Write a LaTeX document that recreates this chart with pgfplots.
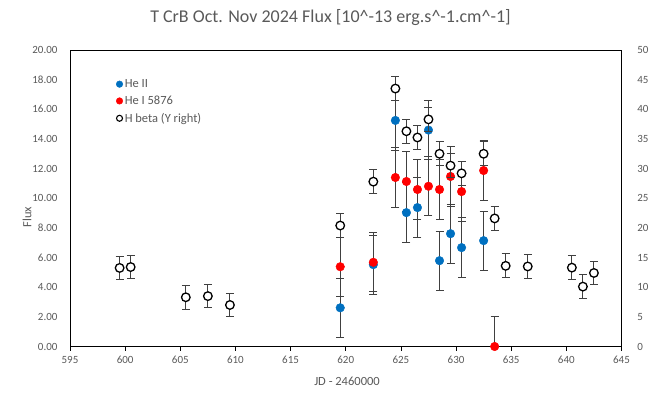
\documentclass[border=0pt]{standalone}
\usepackage{pgfplots}
\pgfplotsset{compat=1.18}
\usepackage{fontspec}
\setmainfont{Carlito}
\definecolor{tickgray}{HTML}{595959}
\definecolor{heii}{HTML}{0070C0}
\definecolor{hei}{HTML}{FF0000}
\definecolor{errgray}{HTML}{404040}

\pgfplotstableread{
x y ep em
619.5 2.61 2 2
622.5 5.52 2 2
624.5 15.25 2 2
625.5 9.03 2 2
626.5 9.37 2 2
627.5 14.6 2 2
628.5 5.79 2 2
629.5 7.61 2 2
630.5 6.67 2 2
632.5 7.14 2 2
}\heii

\pgfplotstableread{
x y ep em
619.5 5.38 2 2
622.5 5.68 2 2
624.5 11.4 2 2
625.5 11.13 2 2
626.5 10.59 2 2
627.5 10.81 2 2
628.5 10.59 2 2
629.5 11.47 2 2
630.5 10.45 2 2
632.5 11.87 2 2
633.5 0 2 0
}\hei

\pgfplotstableread{
x y ep em
599.5 13.25 2 2
600.5 13.4 2 2
605.5 8.3 2 2
607.5 8.5 2 2
609.5 7.0 2 2
619.5 20.4 2 2
622.5 27.8 2 2
624.5 43.5 2 2
625.5 36.3 2 2
626.5 35.25 2 2
627.5 38.3 2 2
628.5 32.5 2 2
629.5 30.5 2 2
630.5 29.2 2 2
632.5 32.5 2 2
633.5 21.6 2 2
634.5 13.6 2 2
636.5 13.5 2 2
640.5 13.3 2 2
641.5 10.1 2 2
642.5 12.4 2 2
}\hbeta

\pgfplotsset{
  errstyle/.style={
    error bars/.cd, y dir=both, y explicit,
    error bar style={color=errgray, line width=1pt},
    error mark options={rotate=90, mark size=4pt, color=errgray, line width=1pt}
  }
}

\begin{document}
\begin{tikzpicture}
\path[use as bounding box] (0pt,0pt) rectangle (661pt,397pt);
\begin{axis}[
  at={(70pt,50.5pt)}, anchor=south west,
  width=551.5pt, height=296.5pt, scale only axis,
  xmin=595, xmax=645, ymin=0, ymax=20,
  xtick distance=5, ytick distance=2,
  xtick pos=lower, ytick pos=left, tick align=outside,
  major tick length=4pt,
  ytick style={draw=none},
  axis line style={black, line width=0.9pt},
  xtick style={black, line width=0.8pt},
  ticklabel style={font=\fontsize{11}{13}\selectfont, text=tickgray},
  /pgf/number format/assume math mode=true,
  yticklabel style={/pgf/number format/fixed, /pgf/number format/fixed zerofill, /pgf/number format/precision=2, xshift=-5pt},
  xticklabel style={/pgf/number format/fixed, /pgf/number format/1000 sep={}, yshift=-2pt},
]
\addplot[only marks, mark=*, mark size=4.3pt, color=heii, mark options={draw=heii, fill=heii}, errstyle]
  table[x=x, y=y, y error plus=ep, y error minus=em] {\heii};
\addplot[only marks, mark=*, mark size=4.3pt, color=hei, mark options={draw=hei, fill=hei}, errstyle]
  table[x=x, y=y, y error plus=ep, y error minus=em] {\hei};
\end{axis}
\begin{axis}[
  at={(70pt,50.5pt)}, anchor=south west,
  width=551.5pt, height=296.5pt, scale only axis,
  xmin=595, xmax=645, ymin=0, ymax=50,
  ytick distance=5,
  hide x axis, axis y line*=right,
  ytick pos=right, tick align=outside,
  ytick style={draw=none},
  axis line style={black, line width=0.9pt},
  ticklabel style={font=\fontsize{11}{13}\selectfont, text=tickgray},
  /pgf/number format/assume math mode=true,
  yticklabel style={xshift=8pt},
  legend style={draw=none, fill=none, at={(0.078,0.915)}, anchor=north west,
    font=\fontsize{12.5}{14}\selectfont, text=tickgray, row sep=3pt,
    /tikz/every even column/.append style={column sep=2pt}},
  legend cell align=left,
]
\addplot[forget plot, only marks, mark=*, mark size=4.3pt, color=black, mark options={draw=black, fill=white, line width=1.3pt}, errstyle]
  table[x=x, y=y, y error plus=ep, y error minus=em] {\hbeta};
\addlegendimage{only marks, mark=*, mark size=3.3pt, color=heii, mark options={fill=heii}}
\addlegendentry{He II}
\addlegendimage{only marks, mark=*, mark size=3.3pt, color=hei, mark options={fill=hei}}
\addlegendentry{He I 5876}
\addlegendimage{only marks, mark=*, mark size=3pt, color=black, mark options={draw=black, fill=white, line width=1.1pt}}
\addlegendentry{H beta (Y right)}
\end{axis}
\node[text=tickgray, font=\fontsize{18}{21}\selectfont] at (330.5pt,379pt) {T CrB Oct. Nov 2024 Flux [10\^{}-13 erg.s\^{}-1.cm\^{}-1]};
\node[text=tickgray, font=\fontsize{12.5}{15}\selectfont, rotate=90] at (27pt,180pt) {Flux};
\node[text=tickgray, font=\fontsize{12.5}{15}\selectfont] at (347pt,16pt) {JD - 2460000};
\end{tikzpicture}
\end{document}
